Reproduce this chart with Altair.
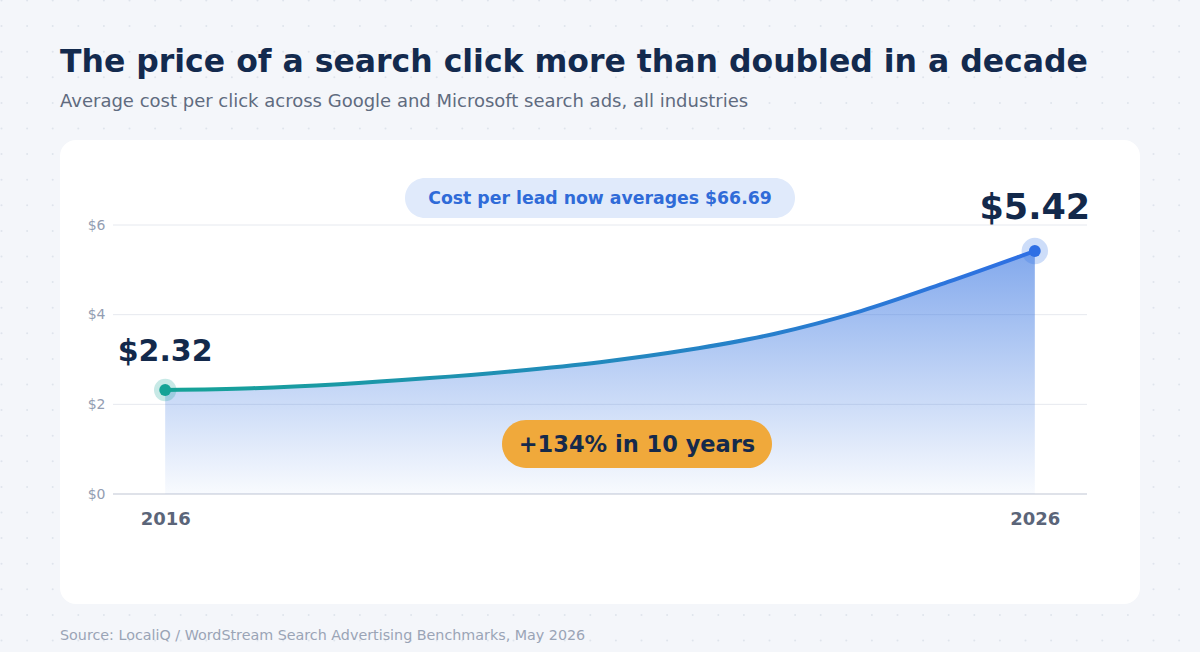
import altair as alt
import numpy as np
import pandas as pd

# ---- data ----
years = [2016, 2017, 2018, 2019, 2020, 2021, 2022, 2023, 2024, 2025, 2026]
cpc = [2.32, 2.36, 2.45, 2.58, 2.74, 2.94, 3.21, 3.57, 4.08, 4.73, 5.42]
end_years = [2016, 2026]
end_values = [2.32, 5.42]
end_labels = ["$2.32", "$5.42"]
y_ticks = [0, 2, 4, 6]
x_ticks = [2016, 2026]

title = "The price of a search click more than doubled in a decade"
subtitle = "Average cost per click across Google and Microsoft search ads, all industries"
source = "Source: LocaliQ / WordStream Search Advertising Benchmarks, May 2026"
callout_top = "Cost per lead now averages $66.69"
callout_mid = "+134% in 10 years"

# ---- layout ----
W, H = 1200, 652
PL, PT, PR, PB = 113, 225, 113, 158
PW, PH = W - PL - PR, H - PT - PB

df = pd.DataFrame({"year": years, "cpc": cpc})
ends = pd.DataFrame({
    "year": end_years, "cpc": end_values, "label": end_labels,
    "col": ["#15a396", "#2f6fe4"],
    "halo": ["#15a396", "#2f6fe4"],
    "hsize": [500, 700],
})

xs = alt.Scale(domain=[2015.4, 2026.6], nice=False, zero=False)
ys = alt.Scale(domain=[0, 6], nice=False)

FONT = "DejaVu Sans"
one = alt.Data(values=[{}])

y_axis = alt.Axis(
    values=y_ticks, labelExpr="'$' + datum.value", title=None, labelFontSize=14,
    labelColor="#939db2", labelFont=FONT, domain=False, ticks=False, grid=False,
    labelPadding=8, zindex=1)
x_axis = alt.Axis(
    values=x_ticks, format="d", title=None, labelFontSize=18, labelFontWeight="bold",
    labelColor="#5b6579", labelFont=FONT, domain=False, ticks=False, grid=False,
    labelPadding=16, zindex=1)

# decorative dot pattern of the page background
gx, gy = np.meshgrid(np.arange(1.5, W, 25.6), np.arange(0.5, H, 25.6))
dots_df = pd.DataFrame({"px": gx.ravel() - PL, "py": gy.ravel() - PT})
dots = alt.Chart(dots_df).mark_circle(size=4, color="#dfe4ec", opacity=1).encode(
    x=alt.X("px:Q", scale=None, axis=None),
    y=alt.Y("py:Q", scale=None, axis=None),
)

card = alt.Chart(one).mark_rect(color="#ffffff", cornerRadius=16).encode(
    x=alt.value(60 - PL), x2=alt.value(1140 - PL),
    y=alt.value(140 - PT), y2=alt.value(604 - PT),
)

grid = alt.Chart(pd.DataFrame({"v": y_ticks[1:]})).mark_rule(
    color="#e6e9ef", strokeWidth=1
).encode(y=alt.Y("v:Q", scale=ys, axis=y_axis), x=alt.value(0), x2=alt.value(PW))

baseline = alt.Chart(pd.DataFrame({"v": [0]})).mark_rule(
    color="#dfe2e9", strokeWidth=2
).encode(y=alt.Y("v:Q", scale=ys, axis=y_axis), x=alt.value(0), x2=alt.value(PW))

area = alt.Chart(df).mark_area(
    interpolate="monotone",
    color=alt.Gradient(
        gradient="linear",
        stops=[alt.GradientStop(color="rgba(47,111,224,0.60)", offset=0),
               alt.GradientStop(color="rgba(47,111,224,0.03)", offset=1)],
        x1=0, x2=0, y1=0, y2=1,
    ),
).encode(
    x=alt.X("year:Q", scale=xs, axis=x_axis),
    y=alt.Y("cpc:Q", scale=ys, axis=y_axis),
)

line = alt.Chart(df).mark_line(
    interpolate="monotone", strokeWidth=4, strokeCap="round",
    color=alt.Gradient(
        gradient="linear",
        stops=[alt.GradientStop(color="#15a396", offset=0),
               alt.GradientStop(color="#2f6fe4", offset=1)],
        x1=0, x2=1, y1=0, y2=0,
    ),
).encode(x=alt.X("year:Q", scale=xs, axis=x_axis), y=alt.Y("cpc:Q", scale=ys, axis=y_axis))

halo = alt.Chart(ends).mark_circle(opacity=0.24).encode(
    x=alt.X("year:Q", scale=xs, axis=x_axis), y=alt.Y("cpc:Q", scale=ys, axis=y_axis),
    color=alt.Color("halo:N", scale=None), size=alt.Size("hsize:Q", scale=None),
)
core = alt.Chart(ends).mark_circle(opacity=1, size=140).encode(
    x=alt.X("year:Q", scale=xs, axis=x_axis), y=alt.Y("cpc:Q", scale=ys, axis=y_axis),
    color=alt.Color("col:N", scale=None),
)

lab_first = alt.Chart(ends).transform_filter("datum.year == 2016").mark_text(
    font=FONT, fontWeight="bold", fontSize=30, color="#13294b",
    align="center", baseline="alphabetic", dy=-29,
).encode(x=alt.X("year:Q", scale=xs, axis=x_axis), y=alt.Y("cpc:Q", scale=ys, axis=y_axis),
         text="label:N")
lab_last = alt.Chart(ends).transform_filter("datum.year == 2026").mark_text(
    font=FONT, fontWeight="bold", fontSize=35, color="#13294b",
    align="center", baseline="alphabetic", dy=-32,
).encode(x=alt.X("year:Q", scale=xs, axis=x_axis), y=alt.Y("cpc:Q", scale=ys, axis=y_axis),
         text="label:N")

pill1 = alt.Chart(one).mark_rect(color="#e0eafb", cornerRadius=20).encode(
    x=alt.value(405 - PL), x2=alt.value(795 - PL), y=alt.value(178 - PT), y2=alt.value(218 - PT))
pill1_t = alt.Chart(one).mark_text(
    text=callout_top, font=FONT, fontWeight="bold", fontSize=17.3, color="#2f6bd8",
    align="center", baseline="middle",
).encode(x=alt.value(600 - PL), y=alt.value(199 - PT))

pill2 = alt.Chart(one).mark_rect(color="#f0a93b", cornerRadius=24).encode(
    x=alt.value(502 - PL), x2=alt.value(772 - PL), y=alt.value(420 - PT), y2=alt.value(468 - PT))
pill2_t = alt.Chart(one).mark_text(
    text=callout_mid, font=FONT, fontWeight="bold", fontSize=22.5, color="#152a4b",
    align="center", baseline="middle",
).encode(x=alt.value(637 - PL), y=alt.value(445 - PT))

t_title = alt.Chart(one).mark_text(
    text=title, font=FONT, fontWeight="bold", fontSize=31.5, color="#132a4e",
    align="left", baseline="alphabetic",
).encode(x=alt.value(60 - PL), y=alt.value(72 - PT))
t_sub = alt.Chart(one).mark_text(
    text=subtitle, font=FONT, fontSize=18, color="#5f6b7f",
    align="left", baseline="alphabetic",
).encode(x=alt.value(60 - PL), y=alt.value(107 - PT))
t_src = alt.Chart(one).mark_text(
    text=source, font=FONT, fontSize=14.3, color="#9aa4b6",
    align="left", baseline="alphabetic",
).encode(x=alt.value(60 - PL), y=alt.value(640 - PT))

chart = alt.layer(
    dots, card, grid, baseline, area, line, halo, core, lab_first, lab_last,
    pill1, pill1_t, pill2, pill2_t, t_title, t_sub, t_src,
).properties(
    width=PW, height=PH,
    autosize=alt.AutoSizeParams(type="none"),
    padding={"left": PL, "top": PT, "right": PR, "bottom": PB},
    background="#f4f6fa",
).configure_view(stroke=None)

chart.save("out.html", embed_options={"renderer": "svg", "actions": False})
